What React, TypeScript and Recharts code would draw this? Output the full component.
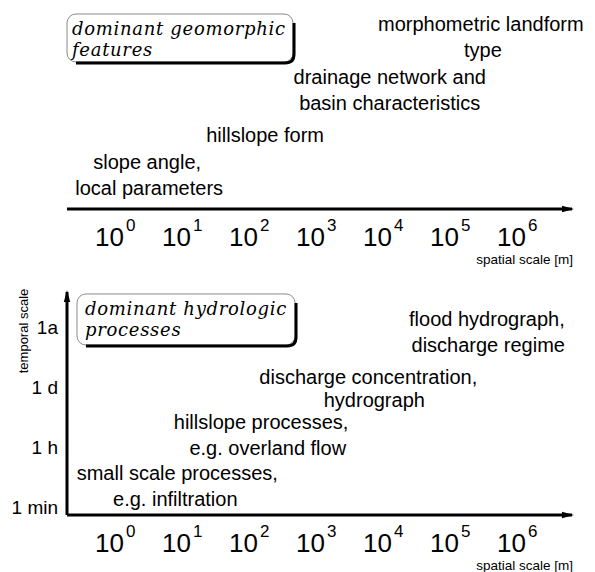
import React from 'react';
import { ScatterChart, Scatter, XAxis, YAxis, ReferenceArea } from 'recharts';

// ---- data ----
const spatialTicks = [0, 1, 2, 3, 4, 5, 6];
const spatialTickBase = '10';
const spatialDomain = [-0.716, 6.82];

const geoLevelDomain = [0, 8.36];
const geoLabels = [
  { text: 'morphometric landform', x: 5.46, y: 7.12 },
  { text: 'type', x: 5.49, y: 6.08 },
  { text: 'drainage network and', x: 4.1, y: 5.0 },
  { text: 'basin characteristics', x: 4.1, y: 3.96 },
  { text: 'hillslope form', x: 2.24, y: 2.68 },
  { text: 'slope angle,', x: 0.48, y: 1.6 },
  { text: 'local parameters', x: 0.51, y: 0.56 },
];
const geoBoxLines = ['dominant geomorphic', 'features'];
const geoBoxX = [-0.716, 2.657];
const geoBoxY = [5.88, 7.8];

const temporalTicks = [0, 1, 2, 3];
const temporalTickLabels = ['1 min', '1 h', '1 d', '1a'];
const temporalDomain = [-0.133, 3.583];
const hydroLabels = [
  { text: 'flood hydrograph,', x: 5.55, y: 3.02 },
  { text: 'discharge regime', x: 5.57, y: 2.58 },
  { text: 'discharge concentration,', x: 3.78, y: 2.05 },
  { text: 'hydrograph', x: 3.87, y: 1.67 },
  { text: 'hillslope processes,', x: 2.18, y: 1.3 },
  { text: 'e.g. overland flow', x: 2.28, y: 0.87 },
  { text: 'small scale processes,', x: 0.93, y: 0.45 },
  { text: 'e.g. infiltration', x: 0.9, y: 0.02 },
];
const hydroBoxLines = ['dominant hydrologic', 'processes'];
const hydroBoxX = [-0.567, 2.687];
const hydroBoxY = [2.7, 3.55];

const spatialAxisTitle = 'spatial scale [m]';
const temporalAxisTitle = 'temporal scale';

// ---- styles ----
const SANS = "'Liberation Sans', Arial, Helvetica, sans-serif";
const SERIF = "'DejaVu Serif', 'Liberation Serif', serif";

const PowerTick = (props: any) => {
  const { x, y, payload } = props;
  return (
    <text x={x - 20} y={y + 37} fontFamily={SANS} fontSize={26} fill="#000">
      {spatialTickBase}
      <tspan dx={2} dy={-15} fontSize={17}>
        {payload.value}
      </tspan>
    </text>
  );
};

const TimeTick = (props: any) => {
  const { x, y, payload } = props;
  return (
    <text x={x} y={y + 7} textAnchor="end" fontFamily={SANS} fontSize={19} fill="#000">
      {temporalTickLabels[payload.value]}
    </text>
  );
};

const TextMark = (props: any) => {
  const { cx, cy, payload } = props;
  return (
    <text x={cx} y={cy} textAnchor="middle" fontFamily={SANS} fontSize={20} fill="#000">
      {payload.text}
    </text>
  );
};

const makeBox = (lines: string[], pad: number) => (props: any) => {
  const { x, y, width, height } = props;
  const r = 9;
  const b = y + height + 1;
  const rt = x + width + 1;
  return (
    <g>
      <rect x={x} y={y} width={width} height={height} rx={r} ry={r} fill="#fff" stroke="#8a8a8a" strokeWidth={1} />
      <path
        d={`M${x + r},${b} L${rt - r},${b} Q${rt},${b} ${rt},${b - r} L${rt},${y + r}`}
        fill="none"
        stroke="#000"
        strokeWidth={3}
      />
      {lines.map((l, i) => (
        <text
          key={i}
          x={x + pad}
          y={y + 21 + i * 21}
          fontFamily={SERIF}
          fontStyle="italic"
          fontSize={18}
          letterSpacing={0.7}
          fill="#000"
        >
          {l}
        </text>
      ))}
    </g>
  );
};

const spatialTitle = (props: any) => {
  const vb = props.viewBox || {};
  return (
    <text x={vb.x + vb.width + 1} y={vb.y + 55} textAnchor="end" fontFamily={SANS} fontSize={13.5} fill="#000">
      {spatialAxisTitle}
    </text>
  );
};

const temporalTitle = (props: any) => {
  const vb = props.viewBox || {};
  const cx = vb.x + 28;
  const cy = vb.y + 39;
  return (
    <text x={cx} y={cy} transform={`rotate(-90 ${cx} ${cy})`} textAnchor="middle" fontFamily={SANS} fontSize={13} fill="#000">
      {temporalAxisTitle}
    </text>
  );
};

const axisLineStyle = { stroke: '#000', strokeWidth: 3, markerEnd: 'url(#arrowHead)' };
const yAxisLineStyle = { stroke: '#000', strokeWidth: 3, markerStart: 'url(#arrowHead)' };

export default function App() {
  return (
    <div style={{ position: 'absolute', left: 0, top: 0, width: 595, height: 572, background: '#fff' }}>
      <svg width={0} height={0} style={{ position: 'absolute' }}>
        <defs>
          <marker
            id="arrowHead"
            markerUnits="userSpaceOnUse"
            markerWidth={12}
            markerHeight={8}
            viewBox="0 0 12 8"
            refX={10}
            refY={4}
            orient="auto-start-reverse"
          >
            <path d="M0,0.8 L12,4 L0,7.2 Z" fill="#000" />
          </marker>
        </defs>
      </svg>
      <ScatterChart width={595} height={280} margin={{ top: 0, right: 23, bottom: 11, left: 67 }}>
        <XAxis
          type="number"
          dataKey="x"
          domain={spatialDomain}
          ticks={spatialTicks}
          interval={0}
          tick={<PowerTick />}
          tickLine={false}
          tickSize={0}
          tickMargin={0}
          height={60}
          axisLine={axisLineStyle}
          label={{ value: spatialAxisTitle, content: spatialTitle }}
        />
        <YAxis type="number" dataKey="y" domain={geoLevelDomain} hide />
        <ReferenceArea
          x1={geoBoxX[0]}
          x2={geoBoxX[1]}
          y1={geoBoxY[0]}
          y2={geoBoxY[1]}
          ifOverflow="visible"
          shape={makeBox(geoBoxLines, 5)}
        />
        <Scatter data={geoLabels} shape={TextMark} isAnimationActive={false} />
      </ScatterChart>
      <ScatterChart width={595} height={292} margin={{ top: 12, right: 23, bottom: 0, left: 0 }}>
        <XAxis
          type="number"
          dataKey="x"
          domain={spatialDomain}
          ticks={spatialTicks}
          interval={0}
          tick={<PowerTick />}
          tickLine={false}
          tickSize={0}
          tickMargin={0}
          height={57}
          axisLine={axisLineStyle}
          label={{ value: spatialAxisTitle, content: spatialTitle }}
        />
        <YAxis
          type="number"
          dataKey="y"
          domain={temporalDomain}
          ticks={temporalTicks}
          interval={0}
          width={67}
          tick={<TimeTick />}
          tickLine={false}
          tickSize={0}
          tickMargin={9}
          axisLine={yAxisLineStyle}
          label={{ value: temporalAxisTitle, content: temporalTitle }}
        />
        <ReferenceArea
          x1={hydroBoxX[0]}
          x2={hydroBoxX[1]}
          y1={hydroBoxY[0]}
          y2={hydroBoxY[1]}
          ifOverflow="visible"
          shape={makeBox(hydroBoxLines, 8)}
        />
        <Scatter data={hydroLabels} shape={TextMark} isAnimationActive={false} />
      </ScatterChart>
    </div>
  );
}
